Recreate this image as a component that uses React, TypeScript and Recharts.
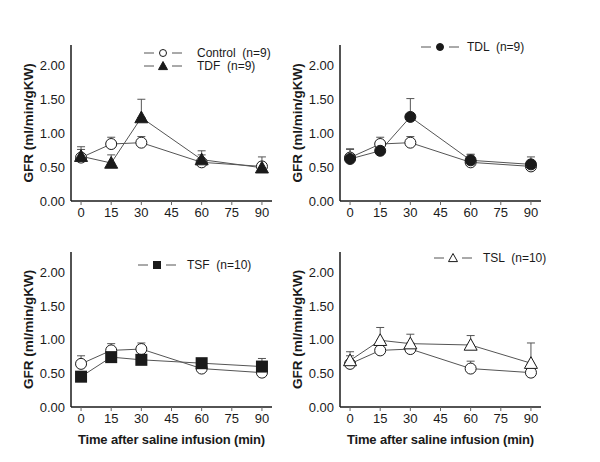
import React from "react";
import { ComposedChart, Line, XAxis, YAxis, ErrorBar } from "recharts";

const times = [0, 15, 30, 60, 90];
const xTicks = [0, 15, 30, 45, 60, 75, 90];
const yTicks = [0, 0.5, 1, 1.5, 2];

const controlMean = [0.64, 0.84, 0.86, 0.57, 0.51];
const controlSem = [0.12, 0.1, 0.09, 0.11, 0.05];
const tdfMean = [0.66, 0.56, 1.23, 0.61, 0.49];
const tdfSem = [0.14, 0.12, 0.27, 0.13, 0.16];
const tdlMean = [0.62, 0.74, 1.24, 0.6, 0.54];
const tdlSem = [0.15, 0.06, 0.27, 0.09, 0.11];
const tsfMean = [0.45, 0.74, 0.7, 0.65, 0.6];
const tsfSem = [0.05, 0.08, 0.06, 0.06, 0.12];
const tslMean = [0.69, 0.99, 0.94, 0.92, 0.65];
const tslSem = [0.13, 0.19, 0.14, 0.14, 0.3];

const FONT = '"Liberation Sans", Arial, sans-serif';
const LINE = "#555";
const INK = "#1a1a1a";

type Shape = "circle" | "triangle" | "square";

const Marker = ({ cx, cy, shape, filled, size = 6 }: any) => {
  if (cx == null || cy == null) return null;
  const fill = filled ? INK : "#fff";
  if (shape === "triangle") {
    const s = size + 0.5;
    return (
      <polygon
        points={`${cx},${cy - s} ${cx - s},${cy + s * 0.8} ${cx + s},${cy + s * 0.8}`}
        fill={fill}
        stroke={INK}
        strokeWidth={1}
      />
    );
  }
  if (shape === "square") {
    return <rect x={cx - size} y={cy - size} width={size * 2} height={size * 2} fill={fill} />;
  }
  return <circle cx={cx} cy={cy} r={size - 0.5} fill={fill} stroke={INK} strokeWidth={1} />;
};

const LegendRow = ({ x, textX, y, shape, filled, label }: any) => (
  <>
    <svg
      width={40}
      height={12}
      style={{ position: "absolute", left: x, top: y - 6, overflow: "visible" }}
    >
      <line x1={0} y1={6} x2={10} y2={6} stroke={LINE} strokeWidth={1} />
      <Marker cx={19} cy={6} shape={shape} filled={filled} size={4} />
      <line x1={28} y1={6} x2={38} y2={6} stroke={LINE} strokeWidth={1} />
    </svg>
    <div
      style={{
        position: "absolute",
        left: textX,
        top: y - 8,
        fontSize: 12,
        lineHeight: "16px",
        color: INK,
        whiteSpace: "pre",
        fontFamily: FONT,
      }}
    >
      {label}
    </div>
  </>
);

const Panel = ({ left, top, height, marginTop, xAxisHeight, title, mean, sem, shape, filled }: any) => {
  const data = times.map((t, i) => ({
    t,
    control: controlMean[i],
    controlErr: [0, controlSem[i]],
    treat: mean[i],
    treatErr: [0, sem[i]],
  }));
  const tickStyle = { fontSize: 13, fill: INK, fontFamily: FONT };
  return (
    <div style={{ position: "absolute", left, top }}>
      <ComposedChart
        width={300}
        height={height}
        data={data}
        margin={{ top: marginTop, right: 28, bottom: 0, left: 0 }}
      >
        <XAxis
          dataKey="t"
          type="number"
          domain={[-5, 95]}
          ticks={xTicks}
          allowDataOverflow
          height={xAxisHeight}
          tick={tickStyle}
          tickSize={4}
          tickMargin={3}
          axisLine={{ stroke: INK, strokeWidth: 1.5 }}
          tickLine={{ stroke: "#666" }}
          label={
            title
              ? {
                  value: title,
                  position: "insideBottom",
                  offset: 18,
                  style: {
                    fontSize: 13,
                    fontWeight: "bold",
                    fill: INK,
                    fontFamily: FONT,
                    letterSpacing: -0.15,
                  },
                }
              : undefined
          }
        />
        <YAxis
          type="number"
          domain={[0, 2.3]}
          ticks={yTicks}
          allowDataOverflow
          width={71}
          tick={tickStyle}
          tickLine={false}
          tickSize={4}
          tickMargin={2}
          tickFormatter={(v: number) => v.toFixed(2)}
          axisLine={{ stroke: INK, strokeWidth: 1.5 }}
          label={{
            value: "GFR (ml/min/gKW)",
            angle: -90,
            position: "insideLeft",
            offset: 31,
            dx: -3,
            style: {
              textAnchor: "middle",
              fontSize: 13.5,
              fontWeight: "bold",
              fill: INK,
              fontFamily: FONT,
            },
          }}
        />
        <Line
          dataKey="control"
          stroke={LINE}
          strokeWidth={1}
          dot={false}
          activeDot={false}
          isAnimationActive={false}
        >
          <ErrorBar dataKey="controlErr" width={4} stroke={LINE} strokeWidth={1} direction="y" />
        </Line>
        <Line
          dataKey="treat"
          stroke={LINE}
          strokeWidth={1}
          dot={false}
          activeDot={false}
          isAnimationActive={false}
        >
          <ErrorBar dataKey="treatErr" width={4} stroke={LINE} strokeWidth={1} direction="y" />
        </Line>
        <Line
          dataKey="control"
          stroke="none"
          activeDot={false}
          isAnimationActive={false}
          dot={(p: any) => (
            <Marker key={`c-${p.index}`} cx={p.cx} cy={p.cy} shape="circle" filled={false} />
          )}
        />
        <Line
          dataKey="treat"
          stroke="none"
          activeDot={false}
          isAnimationActive={false}
          dot={(p: any) => (
            <Marker key={`t-${p.index}`} cx={p.cx} cy={p.cy} shape={shape} filled={filled} />
          )}
        />
      </ComposedChart>
    </div>
  );
};

export default function App() {
  const xTitle = "Time after saline infusion (min)";
  return (
    <div
      style={{
        position: "absolute",
        left: 0,
        top: 0,
        width: 600,
        height: 462,
        background: "#fff",
        fontFamily: FONT,
        overflow: "hidden",
      }}
    >
      <Panel left={0} top={0} height={240} marginTop={45} xAxisHeight={39} mean={tdfMean} sem={tdfSem} shape="triangle" filled />
      <Panel left={269} top={0} height={240} marginTop={45} xAxisHeight={39} mean={tdlMean} sem={tdlSem} shape="circle" filled />
      <Panel left={0} top={240} height={222} marginTop={12} xAxisHeight={55} title={xTitle} mean={tsfMean} sem={tsfSem} shape="square" filled />
      <Panel left={269} top={240} height={222} marginTop={12} xAxisHeight={55} title={xTitle} mean={tslMean} sem={tslSem} shape="triangle" filled={false} />

      <LegendRow x={144} textX={197} y={53} shape="circle" filled={false} label={"Control  (n=9)"} />
      <LegendRow x={144} textX={197} y={66} shape="triangle" filled label={"TDF  (n=9)"} />
      <LegendRow x={421} textX={467} y={47} shape="circle" filled label={"TDL  (n=9)"} />
      <LegendRow x={138} textX={187} y={265} shape="square" filled label={"TSF  (n=10)"} />
      <LegendRow x={434} textX={483} y={258} shape="triangle" filled={false} label={"TSL  (n=10)"} />
    </div>
  );
}
